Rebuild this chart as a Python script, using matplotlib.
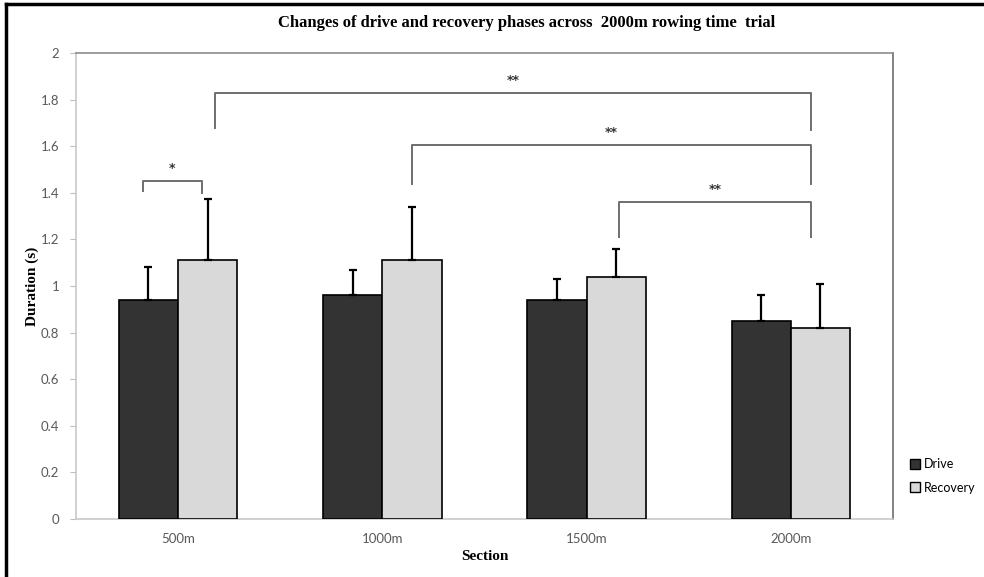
import matplotlib.pyplot as plt
from matplotlib.lines import Line2D
import numpy as np

sections = ["500m", "1000m", "1500m", "2000m"]
drive = [0.94, 0.96, 0.94, 0.85]
recovery = [1.11, 1.11, 1.04, 0.82]
drive_err = [0.14, 0.11, 0.09, 0.11]
recovery_err = [0.265, 0.23, 0.12, 0.19]

# brackets: (x left, x right, bar height, left leg end, right leg end, label)
brackets = [
    (-0.17, 0.115, 1.45, 1.41, 1.40, "*"),
    (0.18, 3.10, 1.83, 1.68, 1.67, "**"),
    (1.145, 3.10, 1.605, 1.44, 1.44, "**"),
    (2.16, 3.10, 1.36, 1.21, 1.21, "**"),
]

serif = "Liberation Serif"
sans = "Lato"

fig = plt.figure(figsize=(9.84, 5.77), dpi=100)
ax = fig.add_axes([0.0772, 0.1005, 0.8303, 0.8075])

x = np.arange(len(sections))
w = 0.29
ax.bar(x - w / 2, drive, w, color="#333333", edgecolor="black", linewidth=1.2, label="Drive", zorder=3)
ax.bar(x + w / 2, recovery, w, color="#d9d9d9", edgecolor="black", linewidth=1.2, label="Recovery", zorder=3)
ax.errorbar(x - w / 2, drive, yerr=[np.zeros(4), drive_err], fmt="none", ecolor="black",
            elinewidth=1.6, capsize=3, capthick=1.6, zorder=4)
ax.errorbar(x + w / 2, recovery, yerr=[np.zeros(4), recovery_err], fmt="none", ecolor="black",
            elinewidth=1.6, capsize=3, capthick=1.6, zorder=4)

for x0, x1, h, l0, l1, lab in brackets:
    ax.plot([x0, x0, x1, x1], [l0, h, h, l1], color="#6e6e6e", linewidth=1.4, zorder=2)
    ax.text((x0 + x1) / 2, h + 0.025, lab, ha="center", va="bottom", fontsize=9,
            fontweight="bold", color="#333333")

ax.set_xlim(-0.5, 3.5)
ax.set_ylim(0, 2)
ax.set_yticks(np.arange(0, 2.01, 0.2))
ax.set_yticklabels(["0", "0.2", "0.4", "0.6", "0.8", "1", "1.2", "1.4", "1.6", "1.8", "2"])
ax.set_xticks(x)
ax.set_xticklabels(sections)
ax.tick_params(axis="y", length=4, color="#bfbfbf", labelcolor="#595959", labelsize=9.5, pad=8)
ax.tick_params(axis="x", length=0, labelcolor="#595959", labelsize=9.5, pad=10)
for lbl in ax.get_xticklabels() + ax.get_yticklabels():
    lbl.set_fontfamily(sans)

ax.spines["left"].set_color("#c8c8c8")
ax.spines["bottom"].set_color("#c8c8c8")
ax.spines["top"].set_color("#8c8c8c")
ax.spines["right"].set_color("#6e6e6e")
for s in ax.spines.values():
    s.set_linewidth(1.2)

ax.set_ylabel("Duration (s)", fontfamily=serif, fontweight="bold", fontsize=11, labelpad=1)
ax.set_xlabel("Section", fontfamily=serif, fontweight="bold", fontsize=11, labelpad=4)

fig.text(0.535, 0.96, "Changes of drive and recovery phases across  2000m rowing time  trial",
         ha="center", va="center", fontfamily=serif, fontweight="bold", fontsize=12)

handles = [Line2D([], [], marker="s", linestyle="none", markersize=7, markerfacecolor="#333333",
                  markeredgecolor="black"),
           Line2D([], [], marker="s", linestyle="none", markersize=7, markerfacecolor="#d9d9d9",
                  markeredgecolor="black")]
fig.legend(handles, ["Drive", "Recovery"], loc="center left", bbox_to_anchor=(0.912, 0.175),
           frameon=False, prop={"family": sans, "size": 9}, handletextpad=0.2, labelspacing=0.9,
           handlelength=1.0)

# outer frame of the figure (left and top)
fig.add_artist(Line2D([0.006, 0.006], [0, 0.993], transform=fig.transFigure, color="black", linewidth=2.5))
fig.add_artist(Line2D([0.006, 1], [0.993, 0.993], transform=fig.transFigure, color="black", linewidth=2.5))

fig.savefig("out.png", dpi=100)
